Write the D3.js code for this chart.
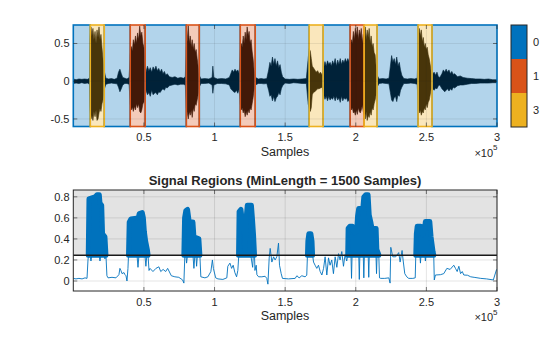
<!DOCTYPE html>
<html>
<head>
<meta charset="utf-8">
<script src="https://cdn.jsdelivr.net/npm/d3@7"></script>
<style>
body { margin: 0; background: #fff; }
svg { font-family: "Liberation Sans", Arial, sans-serif; }
</style>
</head>
<body>
<div id="plot"></div>
<script>
// sample positions below are in thousands of samples

// labelled mask shown in the upper panel
var maskStart = [12.0, 40.3, 80.0, 118.2, 167.0, 196.0, 205.9, 244.1];
var maskEnd   = [21.9, 50.9, 89.2, 128.8, 176.9, 205.9, 215.1, 254.0];
var maskLabel = [3, 1, 1, 1, 3, 1, 3, 3];
var labelNames = [0, 1, 3];

// waveform envelope: [sample, upper, lower]
var waveEnv = [
    [0, 0.03, -0.03], [2, 0.02, -0.025], [4, 0.03, -0.03], [6, 0.025, -0.02], [8, 0.03, -0.03], [10, 0.025, -0.025], [11.5, 0.04, -0.04],
    [11.8, 0.55, -0.35], [12.5, 0.72, -0.5], [13.2, 0.6, -0.45], [13.9, 0.7, -0.52], [14.6, 0.55, -0.4], [15.4, 0.66, -0.47],
    [16.1, 0.5, -0.38], [16.8, 0.68, -0.52], [17.5, 0.58, -0.5], [18.2, 0.72, -0.42], [18.9, 0.55, -0.36], [19.6, 0.62, -0.4],
    [20.3, 0.45, -0.3], [21.0, 0.3, -0.25], [21.7, 0.15, -0.12], [23.1, 0.04, -0.04],
    [25, 0.03, -0.03], [27, 0.035, -0.025], [29, 0.025, -0.03], [31, 0.04, -0.035],
    [32, 0.12, -0.08], [33, 0.16, -0.14], [34, 0.1, -0.1], [35, 0.05, -0.05], [36.5, 0.04, -0.03], [38, 0.03, -0.03], [39.5, 0.05, -0.04],
    [40.3, 0.35, -0.3], [41, 0.46, -0.38], [41.8, 0.4, -0.34], [42.5, 0.55, -0.4], [43.3, 0.48, -0.33], [44, 0.6, -0.38],
    [44.8, 0.5, -0.3], [45.5, 0.64, -0.35], [46.3, 0.55, -0.3], [47, 0.73, -0.4], [47.8, 0.6, -0.42], [48.5, 0.65, -0.38],
    [49.3, 0.5, -0.3], [50, 0.45, -0.28], [50.7, 0.25, -0.2],
    [51.5, 0.12, -0.12], [52.5, 0.2, -0.18], [53.5, 0.14, -0.15], [54.5, 0.18, -0.2], [55.5, 0.12, -0.12], [56.5, 0.19, -0.18],
    [57.5, 0.15, -0.16], [58.5, 0.2, -0.15], [59.5, 0.14, -0.18], [60.5, 0.17, -0.14], [61.5, 0.12, -0.15], [62.5, 0.16, -0.12],
    [63.5, 0.1, -0.1], [64.5, 0.13, -0.12], [65.5, 0.08, -0.08], [66.5, 0.1, -0.09], [68, 0.06, -0.06],
    [70, 0.05, -0.05], [72, 0.06, -0.04], [74, 0.04, -0.05], [76, 0.05, -0.04], [78, 0.04, -0.04], [79.3, 0.06, -0.05],
    [80, 0.45, -0.35], [80.7, 0.55, -0.42], [81.4, 0.74, -0.5], [82.1, 0.5, -0.4], [82.8, 0.6, -0.45], [83.5, 0.45, -0.38],
    [84.2, 0.55, -0.48], [84.9, 0.42, -0.35], [85.6, 0.5, -0.4], [86.3, 0.38, -0.3], [87, 0.42, -0.32], [87.7, 0.3, -0.25],
    [88.4, 0.2, -0.18], [89.1, 0.08, -0.08],
    [90.5, 0.03, -0.03], [93, 0.035, -0.03], [96, 0.03, -0.025], [98.3, 0.05, -0.05], [98.8, 0.2, -0.16], [99.5, 0.05, -0.05],
    [102, 0.03, -0.03], [105, 0.035, -0.03], [108, 0.03, -0.035], [110.5, 0.05, -0.05], [111.5, 0.1, -0.1], [112.5, 0.15, -0.12],
    [113.5, 0.12, -0.14], [114.5, 0.16, -0.15], [115.5, 0.13, -0.12], [116.5, 0.15, -0.16], [117.5, 0.1, -0.1],
    [118.2, 0.4, -0.3], [118.9, 0.5, -0.38], [119.6, 0.45, -0.35], [120.3, 0.6, -0.42], [121, 0.5, -0.38], [121.7, 0.65, -0.47],
    [122.4, 0.55, -0.4], [123.1, 0.72, -0.45], [123.8, 0.6, -0.38], [124.5, 0.66, -0.42], [125.2, 0.5, -0.35], [125.9, 0.55, -0.38],
    [126.6, 0.4, -0.3], [127.3, 0.3, -0.22], [128, 0.15, -0.12],
    [129, 0.05, -0.05], [131, 0.03, -0.03], [133, 0.035, -0.03], [135, 0.03, -0.035], [137, 0.035, -0.03],
    [138.3, 0.15, -0.12], [139.2, 0.25, -0.2], [140.1, 0.2, -0.18], [141, 0.32, -0.26], [141.9, 0.22, -0.2], [142.8, 0.3, -0.27],
    [143.7, 0.2, -0.22], [144.6, 0.27, -0.2], [145.5, 0.18, -0.15], [146.4, 0.22, -0.18], [147.3, 0.12, -0.1], [148.2, 0.06, -0.06],
    [150, 0.03, -0.025], [153, 0.025, -0.03], [156, 0.03, -0.02], [159, 0.025, -0.025], [162, 0.03, -0.03], [165, 0.035, -0.03],
    [166.3, 0.3, -0.3], [167, 0.43, -0.36], [167.8, 0.4, -0.4], [168.5, 0.3, -0.35], [169.2, 0.2, -0.18], [170, 0.18, -0.15],
    [171, 0.15, -0.14], [172, 0.12, -0.12], [173, 0.14, -0.1], [174, 0.1, -0.1], [175, 0.12, -0.09], [176.3, 0.08, -0.08],
    [177.3, 0.18, -0.18], [178.2, 0.26, -0.24], [179.1, 0.2, -0.2], [180, 0.27, -0.26], [180.9, 0.22, -0.2], [181.8, 0.25, -0.25],
    [182.7, 0.2, -0.22], [183.6, 0.27, -0.24], [184.5, 0.22, -0.2], [185.4, 0.3, -0.26], [186.3, 0.2, -0.2], [187.2, 0.28, -0.25],
    [188.1, 0.22, -0.22], [189, 0.3, -0.28], [189.9, 0.22, -0.2], [190.8, 0.28, -0.26], [191.7, 0.24, -0.22], [192.6, 0.3, -0.24],
    [193.5, 0.25, -0.22], [194.4, 0.3, -0.27], [195.3, 0.25, -0.25],
    [196.2, 0.45, -0.3], [196.9, 0.55, -0.38], [197.6, 0.5, -0.35], [198.3, 0.66, -0.42], [199, 0.55, -0.4], [199.7, 0.7, -0.45],
    [200.4, 0.6, -0.38], [201.1, 0.72, -0.44], [201.8, 0.55, -0.35], [202.5, 0.68, -0.4], [203.2, 0.6, -0.42], [203.9, 0.7, -0.38],
    [204.6, 0.5, -0.32], [205.3, 0.62, -0.4],
    [206, 0.6, -0.45], [206.7, 0.72, -0.5], [207.4, 0.55, -0.4], [208.1, 0.68, -0.52], [208.8, 0.58, -0.45], [209.5, 0.7, -0.48],
    [210.2, 0.5, -0.4], [210.9, 0.6, -0.45], [211.6, 0.45, -0.35], [212.3, 0.5, -0.38], [213, 0.38, -0.3], [213.7, 0.35, -0.25],
    [214.4, 0.2, -0.18], [215.1, 0.08, -0.08],
    [216.5, 0.03, -0.03], [219, 0.035, -0.025], [221.5, 0.03, -0.03], [223.5, 0.04, -0.035],
    [224.5, 0.2, -0.15], [225.4, 0.34, -0.25], [226.3, 0.25, -0.27], [227.2, 0.3, -0.22], [228.1, 0.22, -0.2], [229, 0.32, -0.27],
    [229.9, 0.2, -0.18], [230.8, 0.25, -0.2], [231.7, 0.15, -0.12], [232.6, 0.08, -0.08],
    [234, 0.035, -0.03], [236.5, 0.03, -0.03], [239, 0.035, -0.025], [241.5, 0.03, -0.03], [243.5, 0.04, -0.04],
    [244.3, 0.5, -0.35], [245, 0.7, -0.42], [245.7, 0.6, -0.38], [246.4, 0.68, -0.45], [247.1, 0.52, -0.4], [247.8, 0.58, -0.42],
    [248.5, 0.45, -0.35], [249.2, 0.5, -0.38], [249.9, 0.42, -0.3], [250.6, 0.45, -0.35], [251.3, 0.35, -0.28], [252, 0.3, -0.25],
    [252.7, 0.22, -0.18], [253.4, 0.12, -0.1],
    [254.5, 0.1, -0.1], [255.5, 0.12, -0.12], [256.5, 0.08, -0.09], [257.5, 0.12, -0.1], [258.5, 0.06, -0.06], [259.5, 0.05, -0.05],
    [261, 0.1, -0.1], [262, 0.15, -0.12], [263, 0.12, -0.14], [264, 0.16, -0.12], [265, 0.12, -0.1], [266, 0.15, -0.13],
    [267, 0.1, -0.1], [268, 0.13, -0.12], [269, 0.09, -0.08], [270, 0.1, -0.09], [272, 0.06, -0.06], [274, 0.07, -0.05],
    [276, 0.05, -0.05], [279, 0.04, -0.04], [282, 0.035, -0.03], [285, 0.03, -0.03], [288, 0.03, -0.025], [291, 0.025, -0.025],
    [294, 0.03, -0.025], [297, 0.02, -0.02], [300, 0.02, -0.02]
];

// signal envelope of the lower panel: [sample, value]
var envelope = [
    [0, 0.025], [1.9, 0.02], [4.0, 0.025], [6.2, 0.02], [8.3, 0.03], [9.7, 0.025], [10.4, 0.2], [10.8, 0.25],
    [11.8, 0.25], [12.5, 0.19], [13.2, 0.25], [18.2, 0.25], [18.9, 0.19], [19.6, 0.25], [21.7, 0.25], [22.4, 0.21], [23.1, 0.25],
    [23.8, 0.05], [24.6, 0.03], [27.4, 0.035], [30.2, 0.03], [32.3, 0.06], [33.0, 0.12], [33.7, 0.1], [34.5, 0.07],
    [35.9, 0.08], [36.6, 0.06], [37.3, 0.05], [38.0, 0.0], [38.7, 0.12], [39.1, 0.25],
    [45.1, 0.25], [45.8, 0.13], [46.5, 0.25], [50.7, 0.25], [51.4, 0.14], [52.1, 0.25], [52.9, 0.25],
    [53.6, 0.1], [54.3, 0.12], [56.4, 0.09], [58.5, 0.12], [60.6, 0.135], [61.9, 0.09], [63.6, 0.11], [65.4, 0.09],
    [66.8, 0.12], [69.4, 0.05], [71.9, 0.04], [74.7, 0.035], [77.4, 0.01], [78.3, -0.02], [79.0, 0.25],
    [79.7, 0.25], [80.2, 0.17], [80.9, 0.25], [84.7, 0.25], [85.4, 0.12], [86.1, 0.25], [86.8, 0.25], [87.3, 0.14], [87.9, 0.25], [89.6, 0.25],
    [90.3, 0.04], [93.2, 0.03], [95.3, 0.04], [97.4, 0.09], [98.5, 0.2], [99.2, 0.12], [100.8, 0.03], [102.4, 0.02],
    [105.9, 0.015], [108.7, 0.03], [109.4, 0.14], [110.9, 0.17], [112.1, 0.12], [113.2, 0.15], [114.4, 0.08],
    [115.6, 0.04], [116.5, 0.1], [117.2, 0.25],
    [125.6, 0.25], [127.0, 0.13], [127.5, 0.25], [128.3, 0.25],
    [128.6, 0.1], [129.5, 0.15], [130.0, 0.06], [131.2, 0.04], [133.5, 0.04], [135.8, 0.045], [137.0, 0.025], [137.8, -0.03],
    [138.7, 0.22], [139.4, 0.31], [140.6, 0.18], [141.8, 0.23], [142.9, 0.2], [144.1, 0.23], [145.3, 0.36], [146.0, 0.15],
    [147.2, 0.07], [148.1, 0.025], [152.4, 0.02], [157.1, 0.025], [158.3, 0.05], [159.9, 0.03], [161.8, 0.05], [164.1, 0.04],
    [165.3, 0.055], [165.8, 0.25], [169.4, 0.25],
    [170.1, 0.18], [171.2, 0.15], [172.4, 0.12], [173.6, 0.15], [174.8, 0.09], [176.0, 0.057], [177.2, 0.12], [178.3, 0.23],
    [179.5, 0.057], [180.7, 0.22], [181.8, 0.15], [183.0, 0.2], [184.2, 0.07], [185.4, 0.23], [186.6, 0.13], [187.8, 0.26],
    [188.9, 0.2], [190.1, 0.28], [191.3, 0.14], [192.4, 0.25], [193.6, 0.19], [194.3, 0.25],
    [196.6, 0.25], [197.0, 0.025], [197.4, 0.25], [202.1, 0.25], [202.5, 0.015], [202.9, 0.25], [205.3, 0.25], [205.7, 0.03],
    [206.1, 0.25], [208.8, 0.25], [209.2, 0.035], [209.6, 0.25], [214.3, 0.25], [214.7, 0.07], [215.1, 0.25], [216.3, 0.25],
    [216.8, 0.03], [217.7, 0.025], [220.5, 0.025], [223.4, 0.03], [224.3, -0.02], [224.8, 0.32], [226.2, 0.23], [228.3, 0.23],
    [230.4, 0.27], [231.4, 0.18], [232.8, 0.29], [233.5, 0.2], [234.7, 0.07], [236.1, 0.04], [237.5, 0.025], [240.4, 0.025],
    [242.1, 0.03], [242.5, 0.25],
    [245.4, 0.25], [245.8, 0.17], [246.2, 0.25], [248.9, 0.25], [249.3, 0.19], [249.7, 0.25], [255.2, 0.25],
    [255.6, 0.01], [256.4, 0.057], [259.9, 0.06], [262.3, 0.07], [264.5, 0.12], [266.8, 0.11], [269.4, 0.15], [270.6, 0.12],
    [271.8, 0.09], [273.0, 0.14], [274.2, 0.07], [275.4, 0.09], [276.5, 0.057], [279.1, 0.055], [281.4, 0.04], [283.8, 0.035],
    [288.5, 0.025], [292.6, 0.02], [297.4, 0.01], [299.7, 0.11]
];

// regions found above the threshold, and the envelope peaks inside them
var regionStart = [10.6, 39.1, 78.3, 117.0, 165.8, 194.3, 242.5];
var regionEnd   = [23.1, 52.9, 89.6, 128.3, 169.4, 216.3, 255.2];
var regionPeaks = [
    [10.6, 0.25], [11.1, 0.78], [13.2, 0.79], [15.4, 0.8], [16.8, 0.82], [18.4, 0.82], [18.9, 0.74], [20.1, 0.72], [20.7, 0.45], [22.4, 0.42], [23.1, 0.25],
    [39.1, 0.25], [39.6, 0.56], [40.8, 0.59], [46.0, 0.6], [46.7, 0.64], [48.8, 0.65], [49.6, 0.6], [50.3, 0.47], [51.2, 0.38], [52.4, 0.3], [52.9, 0.25],
    [78.3, 0.25], [78.8, 0.6], [79.7, 0.67], [80.9, 0.68], [81.9, 0.58], [82.6, 0.56], [84.7, 0.56], [85.4, 0.42], [88.9, 0.4], [89.6, 0.25],
    [117.0, 0.25], [117.4, 0.66], [118.7, 0.68], [119.4, 0.6], [120.3, 0.5], [121.3, 0.45], [121.7, 0.3], [122.4, 0.6], [123.2, 0.72], [126.1, 0.72], [126.8, 0.6], [127.6, 0.44], [128.3, 0.25],
    [165.8, 0.25], [166.1, 0.38], [166.8, 0.45], [168.2, 0.45], [169.0, 0.38], [169.4, 0.25],
    [194.3, 0.25], [194.6, 0.5], [195.8, 0.52], [197.7, 0.52], [199.0, 0.46], [200.6, 0.47], [201.3, 0.62], [202.1, 0.69], [205.0, 0.69], [205.7, 0.8], [207.1, 0.82], [208.7, 0.82], [209.5, 0.63], [210.8, 0.55], [211.5, 0.5], [214.4, 0.5], [214.9, 0.3], [216.3, 0.25],
    [242.5, 0.25], [242.9, 0.45], [243.5, 0.52], [246.0, 0.52], [247.2, 0.44], [248.4, 0.47], [249.3, 0.565], [252.4, 0.565], [253.3, 0.42], [254.7, 0.28], [255.2, 0.25]
];
var threshold = 0.245;

var xTicks = [0.5, 1, 1.5, 2, 2.5, 3];   // x 10^5 samples
var topYTicks = [-0.5, 0, 0.5];
var botYTicks = [0, 0.2, 0.4, 0.6, 0.8];

var labelColor = { 0: '#0072BD', 1: '#D95319', 3: '#EDB120' };
var axisColor = '#262626';

var svg = d3.select('#plot')
    .append('svg')
    .attr('width', 560)
    .attr('height', 337);

var x = d3.scaleLinear().domain([0, 300]).range([73.3, 497]);
var yTop = d3.scaleLinear().domain([-0.6, 0.745]).range([126.5, 25]);
var yBot = d3.scaleLinear().domain([-0.095, 0.865]).range([291, 190]);

svg.append('clipPath').attr('id', 'clipTop')
    .append('rect').attr('x', 73.3).attr('y', 25).attr('width', 497 - 73.3).attr('height', 101.5);
svg.append('clipPath').attr('id', 'clipBot')
    .append('rect').attr('x', 73.3).attr('y', 190).attr('width', 497 - 73.3).attr('height', 101);

// ---------- upper panel ----------
var topG = svg.append('g');

var waveArea = d3.area()
    .x(function (d) { return x(d[0]); })
    .y0(function (d) { return yTop(d[2]); })
    .y1(function (d) { return yTop(d[1]); });

topG.append('path')
    .attr('clip-path', 'url(#clipTop)')
    .attr('d', waveArea(waveEnv))
    .attr('fill', '#000')
    .attr('stroke', '#000')
    .attr('stroke-width', 0.6);

// background segments (label 0) are the gaps between labelled regions
var segs = [];
var last = 0;
maskStart.forEach(function (s, i) {
    if (s > last) segs.push([last, s, 0]);
    last = maskEnd[i];
});
if (last < 300) segs.push([last, 300, 0]);
maskStart.forEach(function (s, i) { segs.push([s, maskEnd[i], maskLabel[i]]); });

topG.selectAll('rect.seg')
    .data(segs)
    .enter().append('rect')
    .attr('class', 'seg')
    .attr('x', function (d) { return x(d[0]); })
    .attr('width', function (d) { return x(d[1]) - x(d[0]); })
    .attr('y', yTop(0.745))
    .attr('height', yTop(-0.6) - yTop(0.745))
    .attr('fill', function (d) { return labelColor[d[2]]; })
    .attr('fill-opacity', 0.3)
    .attr('stroke', function (d) { return labelColor[d[2]]; })
    .attr('stroke-width', 1.6);

// grid
topG.selectAll('line.gx').data(xTicks).enter().append('line')
    .attr('x1', function (d) { return x(d * 100); }).attr('x2', function (d) { return x(d * 100); })
    .attr('y1', 25).attr('y2', 126.5)
    .attr('stroke', axisColor).attr('stroke-opacity', 0.15).attr('stroke-width', 0.6);
topG.selectAll('line.gy').data(topYTicks).enter().append('line')
    .attr('x1', 73.3).attr('x2', 497)
    .attr('y1', function (d) { return yTop(d); }).attr('y2', function (d) { return yTop(d); })
    .attr('stroke', axisColor).attr('stroke-opacity', 0.15).attr('stroke-width', 0.6);

function drawTicks(g, yScale, yTicks, y0, y1) {
    xTicks.forEach(function (t) {
        var px = x(t * 100);
        g.append('line').attr('x1', px).attr('x2', px).attr('y1', y1).attr('y2', y1 - 4).attr('stroke', axisColor).attr('stroke-width', 0.6);
        g.append('line').attr('x1', px).attr('x2', px).attr('y1', y0).attr('y2', y0 + 4).attr('stroke', axisColor).attr('stroke-width', 0.6);
        g.append('text').attr('x', px).attr('y', y1 + 14.5).attr('text-anchor', 'middle')
            .attr('font-size', 11).attr('fill', axisColor).text(t);
    });
    yTicks.forEach(function (t) {
        var py = yScale(t);
        g.append('line').attr('x1', 73.3).attr('x2', 77.3).attr('y1', py).attr('y2', py).attr('stroke', axisColor).attr('stroke-width', 0.6);
        g.append('line').attr('x1', 497).attr('x2', 493).attr('y1', py).attr('y2', py).attr('stroke', axisColor).attr('stroke-width', 0.6);
        g.append('text').attr('x', 69.5).attr('y', py + 4).attr('text-anchor', 'end')
            .attr('font-size', 11).attr('fill', axisColor).text(t);
    });
    g.append('text').attr('x', 285).attr('y', y1 + 29).attr('text-anchor', 'middle')
        .attr('font-size', 12.5).attr('fill', axisColor).text('Samples');
    var ex = g.append('text').attr('x', 497.5).attr('y', y1 + 30).attr('text-anchor', 'end')
        .attr('font-size', 11).attr('fill', axisColor);
    ex.append('tspan').text('\u00d710');
    ex.append('tspan').attr('font-size', 8).attr('dy', -6.5).text('5');
}

drawTicks(topG, yTop, topYTicks, 25, 126.5);

// colorbar
var cb = svg.append('g');
var cbH = 102 / labelNames.length;
labelNames.forEach(function (l, i) {
    cb.append('rect').attr('x', 511).attr('y', 25 + i * cbH).attr('width', 16).attr('height', cbH)
        .attr('fill', labelColor[l]);
    cb.append('text').attr('x', 533).attr('y', 25 + i * cbH + cbH / 2 + 4)
        .attr('font-size', 11).attr('fill', axisColor).text(l);
});
cb.append('rect').attr('x', 511).attr('y', 25).attr('width', 16).attr('height', 102)
    .attr('fill', 'none').attr('stroke', axisColor).attr('stroke-width', 1);

// ---------- lower panel ----------
var botG = svg.append('g');

botG.append('rect').attr('x', 73.3).attr('y', 190).attr('width', 497 - 73.3)
    .attr('height', yBot(threshold) - 190).attr('fill', '#e3e3e3');

botG.selectAll('line.gx').data(xTicks).enter().append('line')
    .attr('x1', function (d) { return x(d * 100); }).attr('x2', function (d) { return x(d * 100); })
    .attr('y1', 190).attr('y2', 291)
    .attr('stroke', axisColor).attr('stroke-opacity', 0.15).attr('stroke-width', 0.8);
botG.selectAll('line.gy').data(botYTicks).enter().append('line')
    .attr('x1', 73.3).attr('x2', 497)
    .attr('y1', function (d) { return yBot(d); }).attr('y2', function (d) { return yBot(d); })
    .attr('stroke', axisColor).attr('stroke-opacity', 0.15).attr('stroke-width', 0.8);

var envLine = d3.line()
    .x(function (d) { return x(d[0]); })
    .y(function (d) { return yBot(d[1]); });

botG.append('path')
    .attr('clip-path', 'url(#clipBot)')
    .attr('d', envLine(envelope))
    .attr('fill', 'none')
    .attr('stroke', '#0072BD')
    .attr('stroke-width', 0.9);

var peakArea = d3.area()
    .x(function (d) { return x(d[0]); })
    .y0(yBot(threshold))
    .y1(function (d) { return yBot(d[1]); });

regionStart.forEach(function (s, i) {
    var pts = regionPeaks.filter(function (p) { return p[0] >= s && p[0] <= regionEnd[i]; });
    botG.append('path')
        .attr('d', peakArea(pts))
        .attr('fill', '#0072BD')
        .attr('stroke', '#0072BD')
        .attr('stroke-width', 5)
        .attr('stroke-linejoin', 'round')
        .attr('stroke-linecap', 'round');
});

botG.append('line')
    .attr('x1', 73.3).attr('x2', 497)
    .attr('y1', yBot(threshold)).attr('y2', yBot(threshold))
    .attr('stroke', '#1a1a1a').attr('stroke-width', 1.3);

botG.append('rect').attr('x', 73.3).attr('y', 190).attr('width', 497 - 73.3).attr('height', 101)
    .attr('fill', 'none').attr('stroke', axisColor).attr('stroke-width', 1);

drawTicks(botG, yBot, botYTicks, 190, 291);

botG.append('text').attr('x', 285).attr('y', 185).attr('text-anchor', 'middle')
    .attr('font-size', 13).attr('font-weight', 'bold').attr('fill', axisColor)
    .text('Signal Regions (MinLength = 1500 Samples)');
</script>
</body>
</html>
